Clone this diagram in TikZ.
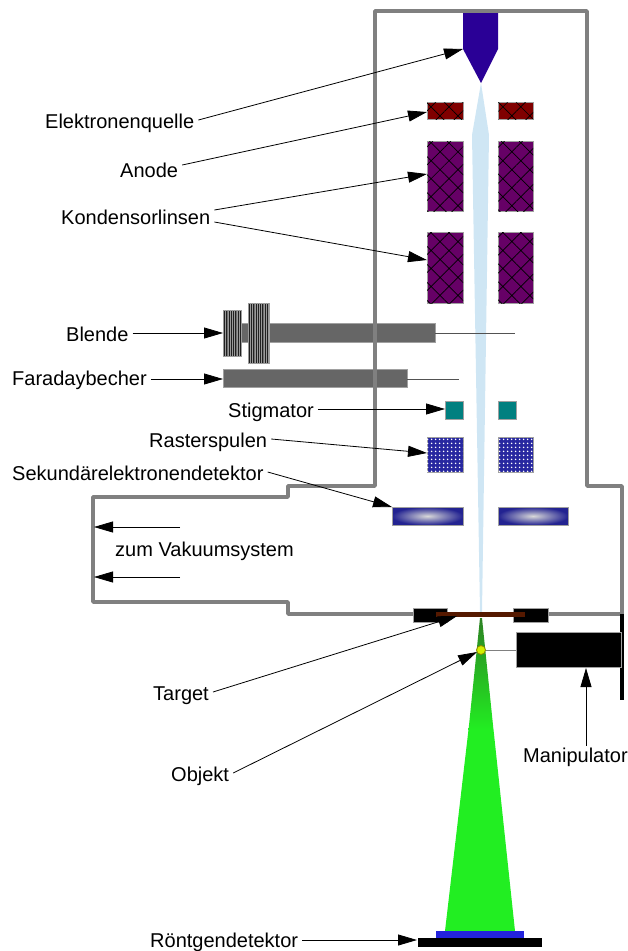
\documentclass[tikz,border=0pt]{standalone}
\usepackage{fontspec}
\setmainfont{Liberation Sans}
\usetikzlibrary{arrows.meta,patterns.meta}

\definecolor{wallgray}{RGB}{128,128,128}
\definecolor{edgegray}{RGB}{160,160,160}
\definecolor{rodgray}{RGB}{102,102,102}
\definecolor{sourceblue}{RGB}{42,0,150}
\definecolor{beamblue}{RGB}{207,230,244}
\definecolor{anodered}{RGB}{128,0,0}
\definecolor{lenspurple}{RGB}{102,0,102}
\definecolor{stigteal}{RGB}{0,128,128}
\definecolor{rasterblue}{RGB}{40,40,160}
\definecolor{detblue}{RGB}{35,35,145}
\definecolor{targetbrown}{RGB}{85,25,0}
\definecolor{conedark}{RGB}{45,130,35}
\definecolor{conelight}{RGB}{34,238,34}
\definecolor{objyellow}{RGB}{210,240,0}
\definecolor{xdetblue}{RGB}{35,35,220}

\begin{document}
\begin{tikzpicture}[x=1pt,y=-1pt,
  lbl/.style={font=\fontsize{20}{24}\selectfont, inner xsep=4pt, inner ysep=0pt, text height=16pt, text depth=0pt},
  arr/.style={-{Triangle[length=19pt,width=11pt]}, line width=0.8pt},
  part/.style={draw=edgegray, line width=0.8pt},
  coil/.style={part, postaction={pattern={Hatch[angle=45,distance=12.7pt,line width=0.7pt]}, pattern color=black}},
  rod/.style={part, fill=rodgray},
  knob/.style={part, fill=gray!25!black, postaction={pattern={Lines[angle=90,distance=1.8pt,line width=0.5pt]}, pattern color=gray!80}}]
\useasboundingbox (0,0) rectangle (628,951);

% electron beam
\fill[beamblue] (481,83) -- (489,135) -- (482,612) -- (480,612) -- (472,135) -- cycle;
% source
\fill[sourceblue] (463,12) -- (498,12) -- (498,49) -- (481,83) -- (463,49) -- cycle;

% anode and condenser lenses
\draw[coil, fill=anodered] (427,102) rectangle (463,119);
\draw[coil, fill=anodered] (498,102) rectangle (533,119);
\draw[coil, fill=lenspurple] (427,141) rectangle (463,211);
\draw[coil, fill=lenspurple] (498,141) rectangle (533,211);
\draw[coil, fill=lenspurple] (427,232) rectangle (463,303);
\draw[coil, fill=lenspurple] (498,232) rectangle (533,303);

% aperture and faraday cup on their rods
\draw[rod] (223,323) rectangle (435,342);
\draw[knob] (223,310) rectangle (241,356);
\draw[knob] (248,303) rectangle (269,363);
\draw[rodgray!80!black, line width=1pt] (435,333) -- (515,333);
\draw[rod] (223,369) rectangle (407,387);
\draw[rodgray!80!black, line width=1pt] (407,379) -- (459,379);

% stigmator, scan coils, SE detector
\draw[part, fill=stigteal] (445,401) rectangle (463,419);
\draw[part, fill=stigteal] (498,401) rectangle (516,419);
\draw[part, fill=rasterblue, postaction={pattern={Dots[distance=4pt,radius=1pt]}, pattern color=white}] (427,437) rectangle (463,472);
\draw[part, fill=rasterblue, postaction={pattern={Dots[distance=4pt,radius=1pt]}, pattern color=white}] (498,437) rectangle (533,472);
\draw[part, inner color=gray!30, outer color=detblue] (392,507) rectangle (463,525);
\draw[part, inner color=gray!30, outer color=detblue] (498,507) rectangle (568,525);

% vacuum chamber
\draw[wallgray, line width=3.5pt, line join=round]
  (375,11) -- (587,11) -- (587,486) -- (622,486) -- (622,614) -- (288,614)
  -- (288,602) -- (93,602) -- (93,497) -- (288,497) -- (288,486) -- (375,486) -- cycle;
\draw[black, line width=4pt] (622,614) -- (622,700);

% target holder
\draw[part, fill=black] (413,608) rectangle (447,622);
\draw[part, fill=black] (513,608) rectangle (548,622);
\fill[targetbrown] (436,612) rectangle (525,617);

% x-ray cone (dark near the object, bright below) and detector
\shade[top color=conedark, bottom color=conelight] (480,618) -- (482,618) -- (493.5,730) -- (468.5,730) -- cycle;
\fill[conelight] (468.5,729.5) -- (493.5,729.5) -- (515,931) -- (445,931) -- cycle;
\fill[xdetblue] (436,931) rectangle (524,938);
\fill[black] (418,938) rectangle (542,947);

% manipulator with object
\draw[part, fill=black] (516,632) rectangle (621,667);
\draw[gray, line width=1pt] (481,650) -- (516,650);
\draw[olive, fill=objyellow, line width=0.8pt] (481,650) circle (4.5);

% arrow ends
\coordinate (quelle) at (463,49);
\coordinate (anode) at (427,112);
\coordinate (linse1) at (427,174);
\coordinate (linse2) at (427,260);
\coordinate (blende) at (223,333);
\coordinate (faraday) at (223,379);
\coordinate (stig) at (445,409);
\coordinate (raster) at (427,453);
\coordinate (sed) at (392,507);
\coordinate (vak1s) at (180,527);
\coordinate (vak1e) at (94,527);
\coordinate (vak2s) at (180,577);
\coordinate (vak2e) at (94,577);
\coordinate (target) at (457,616);
\coordinate (objekt) at (477,652);
\coordinate (manip) at (586,668);
\coordinate (xdet) at (417,940);

% labels
\node[lbl, anchor=base west] (lq) at (41,128) {Elektronenquelle};
\node[lbl, anchor=base west] (la) at (116,177) {Anode};
\node[lbl, anchor=base west] (lk) at (57,224) {Kondensorlinsen};
\node[lbl, anchor=base west] (lb) at (62,341) {Blende};
\node[lbl, anchor=base west] (lf) at (8,385) {Faradaybecher};
\node[lbl, anchor=base west] (ls) at (224,417) {Stigmator};
\node[lbl, anchor=base west] (lr) at (145,447) {Rasterspulen};
\node[lbl, anchor=base west] (lse) at (8,480) {Sekundärelektronendetektor};
\node[lbl, anchor=base west] (lv) at (111,556) {zum Vakuumsystem};
\node[lbl, anchor=base west] (lt) at (149,700) {Target};
\node[lbl, anchor=base west] (lo) at (167,781) {Objekt};
\node[lbl, anchor=base west] (lm) at (519,762) {Manipulator};
\node[lbl, anchor=base west] (lx) at (146,947) {Röntgendetektor};

% pointers
\draw[arr] (lq.east) -- (quelle);
\draw[arr] ([yshift=4pt]la.east) -- (anode);
\draw[arr] ([yshift=6pt]lk.east) -- (linse1);
\draw[arr] ([yshift=-6pt]lk.east) -- (linse2);
\draw[arr] (lb.east |- blende) -- (blende);
\draw[arr] (lf.east |- faraday) -- (faraday);
\draw[arr] (ls.east |- stig) -- (stig);
\draw[arr] (lr.east) -- (raster);
\draw[arr] (lse.east) -- (sed);
\draw[arr] (vak1s) -- (vak1e);
\draw[arr] (vak2s) -- (vak2e);
\draw[arr] (lt.east) -- (target);
\draw[arr] (lo.east) -- (objekt);
\draw[arr] (lm.north -| manip) -- (manip);
\draw[arr] (lx.east |- xdet) -- (xdet);
\end{tikzpicture}
\end{document}
